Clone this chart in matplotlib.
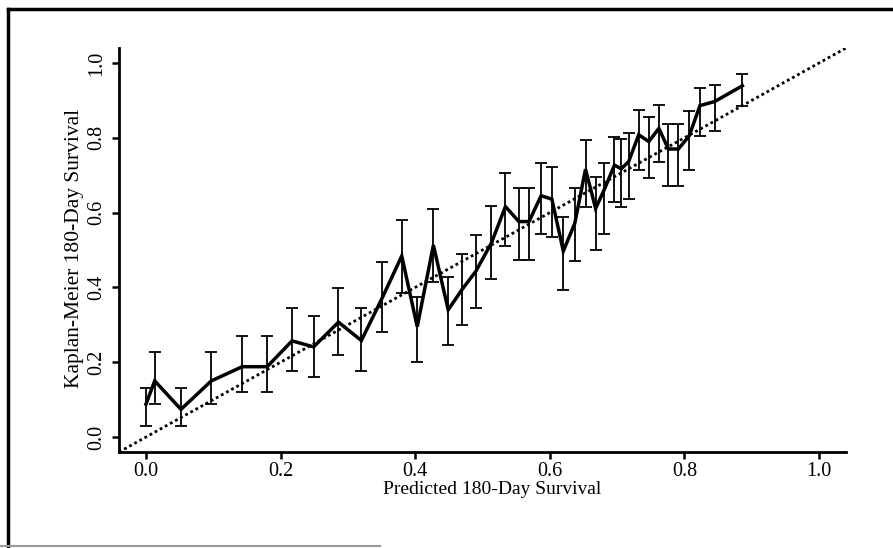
import numpy as np
import matplotlib
matplotlib.use('Agg')
import matplotlib.pyplot as plt
from matplotlib.lines import Line2D

plt.rcParams['font.family'] = ['Liberation Serif', 'DejaVu Serif']

# predicted survival (x), Kaplan-Meier estimate and its confidence limits
pred = [0.000, 0.013, 0.052, 0.097, 0.143, 0.180, 0.217, 0.249, 0.286, 0.320,
        0.351, 0.380, 0.403, 0.427, 0.449, 0.469, 0.490, 0.513, 0.534, 0.554,
        0.569, 0.587, 0.603, 0.620, 0.637, 0.653, 0.668, 0.681, 0.696, 0.706,
        0.717, 0.732, 0.747, 0.762, 0.776, 0.791, 0.807, 0.823, 0.845, 0.886]
km = [0.088, 0.150, 0.074, 0.150, 0.188, 0.188, 0.257, 0.241, 0.307, 0.258,
      0.372, 0.484, 0.295, 0.513, 0.340, 0.393, 0.443, 0.518, 0.616, 0.576,
      0.576, 0.645, 0.636, 0.497, 0.571, 0.716, 0.611, 0.662, 0.727, 0.717,
      0.736, 0.808, 0.790, 0.825, 0.770, 0.770, 0.805, 0.886, 0.897, 0.939]
upper = [0.131, 0.226, 0.130, 0.226, 0.270, 0.270, 0.344, 0.324, 0.398, 0.344,
         0.469, 0.580, 0.375, 0.609, 0.427, 0.489, 0.540, 0.618, 0.705, 0.665,
         0.665, 0.732, 0.723, 0.588, 0.665, 0.794, 0.694, 0.732, 0.803, 0.796,
         0.812, 0.873, 0.855, 0.888, 0.837, 0.837, 0.872, 0.932, 0.941, 0.971]
lower = [0.030, 0.088, 0.030, 0.088, 0.120, 0.120, 0.177, 0.160, 0.219, 0.176,
         0.282, 0.386, 0.201, 0.415, 0.246, 0.299, 0.346, 0.422, 0.512, 0.473,
         0.473, 0.543, 0.534, 0.392, 0.471, 0.616, 0.500, 0.543, 0.627, 0.616,
         0.636, 0.715, 0.693, 0.736, 0.671, 0.671, 0.715, 0.806, 0.819, 0.886]
ticks = [0.0, 0.2, 0.4, 0.6, 0.8, 1.0]

pred = np.array(pred)
km = np.array(km)
yerr = [km - np.array(lower), np.array(upper) - km]

fig = plt.figure(figsize=(8.93, 5.48), dpi=100)
ax = fig.add_axes([0.1333, 0.1752, 0.8141, 0.7372])

ax.errorbar(pred, km, yerr=yerr, fmt='none', ecolor='black',
            elinewidth=1.3, capsize=4.5, capthick=1.3)
ax.plot(pred, km, color='black', lw=2.5, solid_joinstyle='miter')
ax.axline((0, 0), slope=1, color='black', lw=2.0, linestyle=(0, (1, 1.1)))

ax.set_xlim(-0.04, 1.04)
ax.set_ylim(-0.04, 1.04)
ax.set_xticks(ticks)
ax.set_yticks(ticks)
ax.set_xticklabels(['%.1f' % t for t in ticks], fontsize=14.5)
ax.set_yticklabels(['%.1f' % t for t in ticks], fontsize=14.5,
                   rotation=90, va='center')
ax.tick_params(axis='both', direction='out', length=5, width=1.8)
ax.tick_params(axis='x', pad=2)
ax.tick_params(axis='y', pad=4)

for s in ['top', 'right']:
    ax.spines[s].set_visible(False)
for s in ['left', 'bottom']:
    ax.spines[s].set_linewidth(2)

fig.text(492 / 893, 1 - 490 / 548, 'Predicted 180-Day Survival',
         fontsize=14, ha='center', va='center')
fig.text(75 / 893, 1 - 248 / 548, 'Kaplan-Meier 180-Day Survival',
         fontsize=15.5, ha='center', va='center', rotation=90)

# scanned page frame
fig.add_artist(Line2D([8 / 893, 1.0], [1 - 9 / 548] * 2, color='black', lw=2.5))
fig.add_artist(Line2D([8 / 893] * 2, [0, 1 - 9 / 548], color='black', lw=2.5))
fig.add_artist(Line2D([0, 380 / 893], [1 - 546 / 548] * 2, color='#999999', lw=1.5))

plt.savefig('out.png', dpi=100)
